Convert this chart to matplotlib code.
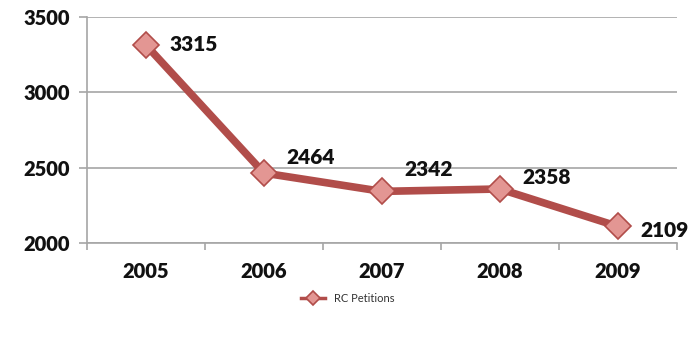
import matplotlib
matplotlib.use('Agg')
import matplotlib.pyplot as plt
import numpy as np

plt.rcParams['font.family'] = ['Lato', 'DejaVu Sans']

years = ['2005', '2006', '2007', '2008', '2009']
petitions = [3315, 2464, 2342, 2358, 2109]
series_name = 'RC Petitions'

LINE = '#b14d4a'
FACE = '#e39693'
GRID = '#a6a6a6'

# label offsets (points) for each data label
label_offsets = [(17, 0), (16, 11), (16, 16), (16, 8), (16, -3)]

fig = plt.figure(figsize=(6.95, 3.43), dpi=100)
ax = fig.add_axes([0.125, 0.292, 0.849, 0.658])

x = np.arange(len(years))
ax.plot(x, petitions, color=LINE, lw=5.5, marker='D', markersize=13,
        markerfacecolor=FACE, markeredgecolor=LINE, markeredgewidth=1.2,
        label=series_name, zorder=3, solid_joinstyle='miter')

for xi, val, (dx, dy) in zip(x, petitions, label_offsets):
    ax.annotate(f'{val}', (xi, val), xytext=(dx, dy), textcoords='offset points',
                ha='left', va='center', fontsize=15, fontweight='heavy',
                color='#111111')

ax.set_xlim(-0.5, len(years) - 0.5)
ax.set_ylim(2000, 3500)
ax.set_yticks([2000, 2500, 3000, 3500])
ax.set_xticks(x)
ax.set_xticklabels(years)
ax.set_xticks(np.arange(len(years) + 1) - 0.5, minor=True)
ax.tick_params(axis='x', which='major', length=0, pad=14)
ax.tick_params(axis='x', which='minor', length=5, color=GRID, width=1.2)
ax.tick_params(axis='y', length=6, color=GRID, width=1.2, pad=6)
for lab in ax.get_xticklabels() + ax.get_yticklabels():
    lab.set_fontsize(14.5)
    lab.set_fontweight('heavy')
    lab.set_color('#111111')

ax.grid(True, axis='y', color=GRID, lw=1.2)
ax.set_axisbelow(True)
for s in ['top', 'right']:
    ax.spines[s].set_visible(False)
for s in ['left', 'bottom']:
    ax.spines[s].set_color(GRID)
    ax.spines[s].set_linewidth(1.2)

leg = fig.legend(loc='center', bbox_to_anchor=(0.5, 0.13), frameon=False,
                 fontsize=8, handlelength=2.2, markerscale=0.55)
for line in leg.get_lines():
    line.set_linewidth(2.5)
for t in leg.get_texts():
    t.set_color('#333333')

fig.savefig('out.png', dpi=100)
